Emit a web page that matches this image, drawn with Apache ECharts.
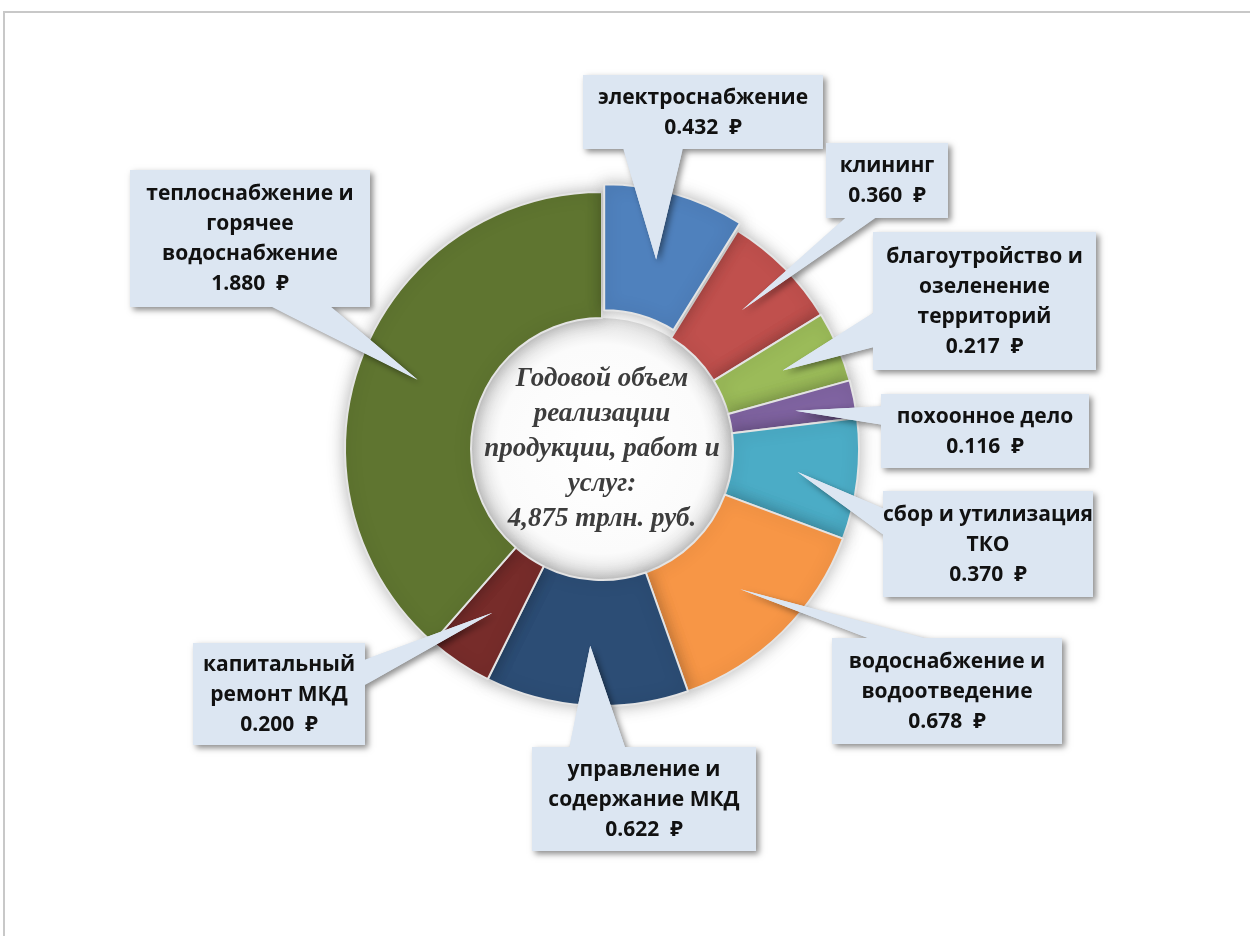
<!DOCTYPE html>
<html>
<head>
<meta charset="utf-8">
<script src="https://cdn.jsdelivr.net/npm/echarts@6/dist/echarts.min.js"></script>
<style>
  html, body { margin: 0; padding: 0; background: #fff; }
  #chart { width: 1250px; height: 936px; }
</style>
</head>
<body>
<div id="chart"></div>
<script>
// данные
var categories = [
  'электроснабжение',
  'клининг',
  'благоутройство и\nозеленение\nтерриторий',
  'похоонное дело',
  'сбор и утилизация\nТКО',
  'водоснабжение и\nводоотведение',
  'управление и\nсодержание МКД',
  'капитальный\nремонт МКД',
  'теплоснабжение и\nгорячее\nводоснабжение'
];
var values = [0.432, 0.360, 0.217, 0.116, 0.370, 0.678, 0.622, 0.200, 1.880];
var colors = ['#4F81BD', '#C0504D', '#9BBB59', '#8064A2', '#4BACC6', '#F79646', '#2C4D75', '#772C2A', '#5F7530'];
var centerTitle = ['Годовой объем', 'реализации', 'продукции, работ и', 'услуг:'];

// разметка (положение выносок)
var pieCenter = [602, 449];
var rIn = 131, rOut = 257, tipR = 197;
var boxes = [
  [583, 75, 240, 74],
  [826, 143, 122, 75],
  [873, 232, 223, 138],
  [881, 394, 208, 74],
  [883, 491, 210, 106],
  [832, 638, 230, 106],
  [532, 747, 224, 104],
  [193, 643, 172, 102],
  [130, 170, 240, 137]
];
var boxColor = '#DCE6F2';

var chart = echarts.init(document.getElementById('chart'));
var total = values.reduce(function (a, b) { return a + b; }, 0);

// хвост выноски как у wedgeRectCallout: основание на 2/12..5/12 или 7/12..10/12 стороны
function tail(box, tip) {
  var x = box[0], y = box[1], w = box[2], h = box[3];
  var dx = tip[0] - (x + w / 2), dy = tip[1] - (y + h / 2);
  if (Math.abs(dx) / w > Math.abs(dy) / h) {
    var ex = dx > 0 ? x + w - 1 : x + 1;
    var a = dy < 0 ? y + h * 2 / 12 : y + h * 7 / 12;
    return [[ex, a], tip, [ex, a + h * 3 / 12]];
  }
  var ey = dy > 0 ? y + h - 1 : y + 1;
  var b = dx < 0 ? x + w * 2 / 12 : x + w * 7 / 12;
  return [[b, ey], tip, [b + w * 3 / 12, ey]];
}

var shadow = { shadowBlur: 6, shadowOffsetX: 3, shadowOffsetY: 3, shadowColor: 'rgba(0,0,0,0.45)' };
var graphics = [
  {
    type: 'rect', z: 0,
    shape: { x: 4, y: 12, width: 1300, height: 1000 },
    style: { fill: 'none', stroke: '#c8c8c8', lineWidth: 2 }
  },
  {
    type: 'circle', z: 0,
    shape: { cx: pieCenter[0], cy: pieCenter[1], r: rIn },
    style: {
      fill: {
        type: 'radial', x: 0.5, y: 0.5, r: 0.5,
        colorStops: [
          { offset: 0, color: '#ffffff' },
          { offset: 0.8, color: '#fbfbfb' },
          { offset: 1, color: '#e0e0e0' }
        ]
      }
    }
  },
  {
    type: 'text', z: 5, x: pieCenter[0], y: pieCenter[1],
    style: {
      text: centerTitle.join('\n') + '\n' + total.toFixed(3).replace('.', ',') + ' трлн. руб.',
      fontFamily: '"Liberation Serif", "DejaVu Serif", serif',
      fontStyle: 'italic', fontWeight: 'bold', fontSize: 27, lineHeight: 35,
      fill: '#3d3d3d',
      align: 'center', verticalAlign: 'middle',
      textAlign: 'center', textVerticalAlign: 'middle'
    }
  }
];

var acc = 0;
values.forEach(function (v, i) {
  var mid = (acc + v / 2) / total * 2 * Math.PI;
  acc += v;
  var tip = [pieCenter[0] + tipR * Math.sin(mid), pieCenter[1] - tipR * Math.cos(mid)];
  var b = boxes[i];
  var pts = tail(b, tip);
  graphics.push({ type: 'polygon', z: 10, shape: { points: pts }, style: Object.assign({ fill: boxColor }, shadow) });
  graphics.push({ type: 'rect', z: 11, shape: { x: b[0], y: b[1], width: b[2], height: b[3] }, style: Object.assign({ fill: boxColor }, shadow) });
  graphics.push({ type: 'polygon', z: 12, shape: { points: pts }, style: { fill: boxColor } });
  graphics.push({
    type: 'text', z: 13, x: b[0] + b[2] / 2, y: b[1] + b[3] / 2 + 1,
    style: {
      text: categories[i] + '\n' + v.toFixed(3) + '  \u20BD',
      fontFamily: '"Open Sans", "Noto Sans", sans-serif',
      fontWeight: 'bold', fontSize: 21, lineHeight: 30,
      fill: '#111111',
      align: 'center', verticalAlign: 'middle',
      textAlign: 'center', textVerticalAlign: 'middle'
    }
  });
});

chart.setOption({
  animation: false,
  backgroundColor: '#ffffff',
  graphic: graphics,
  series: [{
    type: 'pie',
    z: 3,
    center: pieCenter,
    radius: [rIn, rOut],
    startAngle: 90,
    clockwise: true,
    selectedMode: 'single',
    selectedOffset: 8,
    avoidLabelOverlap: false,
    label: { show: false },
    labelLine: { show: false },
    emphasis: { scale: false },
    itemStyle: {
      borderColor: '#e4e4e4',
      borderWidth: 2,
      shadowBlur: 16,
      shadowColor: 'rgba(0,0,0,0.28)'
    },
    data: categories.map(function (n, i) {
      return { name: n, value: values[i], selected: i === 0, itemStyle: { color: colors[i] } };
    })
  }]
});
</script>
</body>
</html>
